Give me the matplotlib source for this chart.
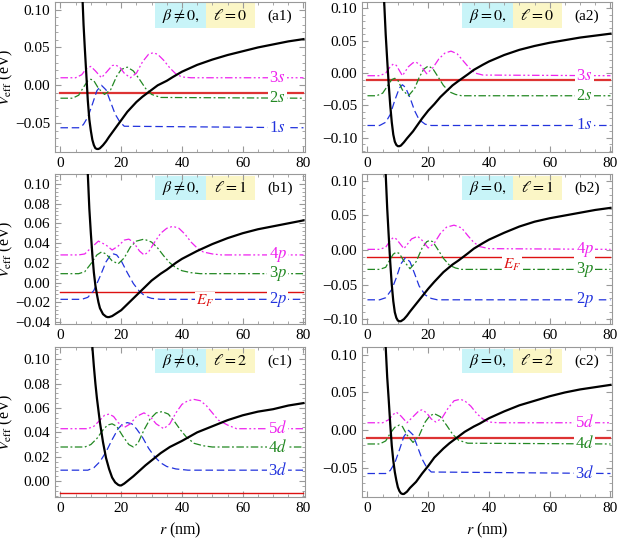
import numpy as np
import matplotlib
matplotlib.use('Agg')
import matplotlib.pyplot as plt
from matplotlib.patches import Rectangle
from matplotlib.ticker import AutoMinorLocator, MultipleLocator
import matplotlib.transforms as mtransforms

plt.rcParams['font.family'] = ['Liberation Serif', 'DejaVu Serif']
plt.rcParams['mathtext.fontset'] = 'stix'

# ---- data ----
# (a1) beta != 0, l = 0
a1_pot_r = [7.3, 7.6, 8, 8.5, 9, 9.5, 10, 10.5, 11, 11.5, 12, 12.5, 13, 14, 15, 16, 18, 20, 22, 25, 27, 30, 32, 35, 37, 40, 45, 50, 55, 60, 65, 70, 75, 80]
a1_pot_v = [0.11, 0.08, 0.05, 0.015, -0.02, -0.045, -0.06, -0.072, -0.079, -0.083, -0.084, -0.084, -0.083, -0.079, -0.074, -0.068, -0.057, -0.046, -0.035, -0.022, -0.015, -0.006, 0.0, 0.006, 0.011, 0.018, 0.027, 0.034, 0.040, 0.045, 0.050, 0.054, 0.058, 0.061]
a1_1_r = [0, 6, 7.5, 9, 10.5, 12, 13.5, 15, 16.5, 18, 19.5, 21, 80]
a1_1_v = [-0.056, -0.056, -0.052, -0.042, -0.025, -0.007, 0.0, -0.006, -0.022, -0.038, -0.048, -0.054, -0.056]
a1_2_r = [0, 4, 6, 7.5, 9, 10, 11, 12.5, 14.5, 16.5, 18.5, 20, 22, 24, 26, 28, 30, 33, 80]
a1_2_v = [-0.017, -0.017, -0.013, -0.003, 0.006, 0.008, 0.006, -0.004, -0.012, -0.006, 0.012, 0.021, 0.024, 0.019, 0.008, -0.004, -0.012, -0.016, -0.017]
a1_3_r = [0, 5, 7, 8.5, 10, 11.5, 13.5, 15.5, 17, 18, 19.5, 21, 23, 25, 27, 29, 30.5, 32, 34, 36, 38, 40, 43, 80]
a1_3_v = [0.01, 0.01, 0.014, 0.022, 0.025, 0.019, 0.01, 0.019, 0.026, 0.027, 0.024, 0.016, 0.01, 0.016, 0.031, 0.041, 0.043, 0.041, 0.033, 0.023, 0.015, 0.011, 0.01, 0.01]

# (a2) beta = 0, l = 0
a2_pot_r = [5.5, 6, 6.5, 7, 7.5, 8, 8.5, 9, 9.5, 10, 10.5, 11, 12, 13, 15, 18, 20, 22, 24, 26, 28, 30, 33, 35, 38, 40, 45, 50, 55, 60, 65, 70, 75, 80]
a2_pot_v = [0.11, 0.06, 0.02, -0.018, -0.05, -0.076, -0.095, -0.106, -0.111, -0.113, -0.113, -0.112, -0.107, -0.101, -0.09, -0.07, -0.058, -0.048, -0.037, -0.028, -0.019, -0.012, -0.002, 0.005, 0.013, 0.018, 0.028, 0.036, 0.042, 0.047, 0.051, 0.055, 0.058, 0.061]
a2_1_r = [0, 4, 6, 7.5, 9, 10.5, 11.5, 12.5, 14, 15.5, 17, 19, 21, 80]
a2_1_v = [-0.081, -0.081, -0.076, -0.064, -0.042, -0.023, -0.018, -0.022, -0.038, -0.058, -0.072, -0.079, -0.081, -0.081]
a2_2_r = [0, 3, 5, 7, 8, 9, 10, 11.5, 13.5, 15.5, 17, 18.5, 20, 21.5, 23, 25, 27, 29, 31, 80]
a2_2_v = [-0.035, -0.035, -0.031, -0.017, -0.01, -0.008, -0.011, -0.026, -0.035, -0.024, -0.007, 0.006, 0.011, 0.007, -0.004, -0.019, -0.029, -0.033, -0.035, -0.035]
a2_3_r = [0, 4, 6, 7.5, 8.5, 9.5, 11.5, 13.5, 15, 16, 17.5, 19.5, 21.5, 23.5, 25.5, 27.5, 29.5, 31.5, 33.5, 35.5, 38, 80]
a2_3_v = [-0.004, -0.004, 0.0, 0.01, 0.014, 0.012, -0.004, 0.01, 0.016, 0.017, 0.012, -0.001, 0.008, 0.022, 0.031, 0.034, 0.03, 0.019, 0.008, 0.0, -0.003, -0.004]

# (b1) beta != 0, l = 1
b1_pot_r = [9, 9.5, 10, 10.5, 11, 11.5, 12, 12.5, 13, 14, 15, 15.5, 16, 17, 18, 20, 22, 25, 28, 30, 33, 35, 38, 40, 45, 50, 55, 60, 65, 70, 75, 80]
b1_pot_v = [0.11, 0.075, 0.05, 0.028, 0.01, -0.003, -0.012, -0.02, -0.026, -0.032, -0.0345, -0.035, -0.035, -0.034, -0.032, -0.028, -0.022, -0.013, -0.004, 0.002, 0.009, 0.013, 0.02, 0.024, 0.032, 0.039, 0.045, 0.05, 0.054, 0.057, 0.060, 0.063]
b1_1_r = [0, 7, 9, 11, 13, 15, 16.5, 17.5, 18.5, 20, 22, 24, 26, 28, 30, 33, 80]
b1_1_v = [-0.017, -0.017, -0.015, -0.008, 0.006, 0.021, 0.028, 0.029, 0.028, 0.022, 0.01, -0.001, -0.009, -0.014, -0.016, -0.017, -0.017]
b1_2_r = [0, 6, 8, 10, 12, 13.5, 15, 17, 19, 21, 23, 25, 27.5, 30, 32, 34, 36, 38, 40, 43, 46, 80]
b1_2_v = [0.009, 0.009, 0.011, 0.019, 0.028, 0.031, 0.029, 0.022, 0.019, 0.025, 0.036, 0.042, 0.044, 0.041, 0.035, 0.027, 0.02, 0.015, 0.012, 0.01, 0.009, 0.009]
b1_3_r = [0, 6, 8, 10, 12.5, 15, 17, 19, 21, 22.5, 24, 26, 27.5, 29, 31, 33, 35, 37, 39, 41, 43, 45, 47, 50, 53, 80]
b1_3_v = [0.028, 0.028, 0.029, 0.035, 0.042, 0.038, 0.033, 0.037, 0.043, 0.044, 0.041, 0.032, 0.028, 0.031, 0.041, 0.05, 0.055, 0.057, 0.055, 0.049, 0.041, 0.035, 0.031, 0.029, 0.028, 0.028]

# (b2) beta = 0, l = 1
b2_pot_r = [6, 6.5, 7, 7.5, 8, 8.5, 9, 9.5, 10, 10.5, 11, 12, 13, 14, 16, 18, 20, 22, 25, 28, 30, 33, 35, 38, 40, 45, 50, 55, 60, 65, 70, 75, 80]
b2_pot_v = [0.11, 0.06, 0.02, -0.018, -0.05, -0.074, -0.09, -0.098, -0.102, -0.103, -0.103, -0.1, -0.095, -0.089, -0.078, -0.067, -0.056, -0.046, -0.032, -0.021, -0.015, -0.005, 0.002, 0.01, 0.015, 0.025, 0.034, 0.041, 0.046, 0.050, 0.054, 0.058, 0.061]
b2_1_r = [0, 4, 6, 8, 9.5, 11, 12.5, 14, 15.5, 17, 19, 21, 23, 80]
b2_1_v = [-0.072, -0.072, -0.069, -0.057, -0.04, -0.02, -0.011, -0.017, -0.034, -0.052, -0.065, -0.07, -0.072, -0.072]
b2_2_r = [0, 4, 6, 7.5, 8.5, 9.5, 10.5, 12, 14, 16, 18, 19.5, 20.5, 21.5, 23, 25, 27, 29, 31, 33, 80]
b2_2_v = [-0.028, -0.028, -0.025, -0.013, -0.006, -0.003, -0.005, -0.016, -0.027, -0.017, 0.003, 0.012, 0.014, 0.012, 0.002, -0.012, -0.022, -0.026, -0.028, -0.028, -0.028]
b2_3_r = [0, 4, 6, 7.5, 8.5, 9.5, 12, 14.5, 16.5, 18, 20, 22, 24, 26, 28.5, 31, 33, 35, 37, 40, 80]
b2_3_v = [0.001, 0.001, 0.004, 0.014, 0.018, 0.016, 0.002, 0.016, 0.02, 0.014, 0.003, 0.01, 0.024, 0.033, 0.036, 0.032, 0.021, 0.011, 0.005, 0.002, 0.001]

# (c1) beta != 0, l = 2
c1_pot_r = [10.5, 11, 11.5, 12, 13, 14, 15, 16, 17, 18, 19, 19.5, 20, 21, 22, 24, 26, 28, 30, 33, 36, 40, 45, 50, 55, 60, 65, 70, 75, 80]
c1_pot_v = [0.11, 0.094, 0.08, 0.068, 0.048, 0.032, 0.019, 0.01, 0.003, -0.001, -0.003, -0.0035, -0.0035, -0.002, 0.0, 0.004, 0.0085, 0.013, 0.017, 0.023, 0.028, 0.033, 0.04, 0.045, 0.050, 0.054, 0.057, 0.059, 0.062, 0.064]
c1_1_r = [0, 9, 11, 13, 15, 17, 19, 20.5, 22, 23.5, 25, 27, 29, 31, 33, 35, 38, 42, 80]
c1_1_v = [0.009, 0.009, 0.011, 0.016, 0.024, 0.034, 0.043, 0.047, 0.048, 0.047, 0.043, 0.036, 0.027, 0.02, 0.015, 0.012, 0.01, 0.009, 0.009]
c1_2_r = [0, 8, 10, 12, 14, 15.5, 17, 18.5, 20.5, 22.5, 24, 25.5, 27.5, 29.5, 31.5, 33.5, 35.5, 37.5, 39.5, 41.5, 44, 47, 50, 80]
c1_2_v = [0.028, 0.028, 0.03, 0.035, 0.042, 0.046, 0.047, 0.045, 0.037, 0.03, 0.028, 0.031, 0.042, 0.051, 0.056, 0.057, 0.055, 0.049, 0.042, 0.036, 0.031, 0.029, 0.028, 0.028]
c1_3_r = [0, 9, 11, 13, 14.5, 16, 17.5, 19, 21, 23, 25, 27.5, 29.5, 31.5, 34, 36, 38, 40, 42, 44, 46, 48, 50, 52, 55, 58, 80]
c1_3_v = [0.043, 0.043, 0.045, 0.05, 0.054, 0.055, 0.053, 0.048, 0.044, 0.047, 0.053, 0.056, 0.053, 0.047, 0.043, 0.047, 0.056, 0.063, 0.066, 0.067, 0.066, 0.062, 0.056, 0.05, 0.046, 0.043, 0.043]

# (c2) beta = 0, l = 2
c2_pot_r = [6, 6.5, 7, 7.5, 8, 8.5, 9, 9.5, 10, 10.5, 11, 11.5, 12, 13, 14, 16, 18, 20, 22, 25, 27, 30, 32, 35, 37, 40, 45, 50, 55, 60, 65, 70, 75, 80]
c2_pot_v = [0.11, 0.07, 0.04, 0.008, -0.02, -0.04, -0.055, -0.066, -0.075, -0.080, -0.083, -0.084, -0.084, -0.081, -0.076, -0.068, -0.057, -0.047, -0.036, -0.024, -0.017, -0.008, -0.002, 0.005, 0.009, 0.016, 0.025, 0.033, 0.039, 0.045, 0.050, 0.054, 0.057, 0.06]
c2_1_r = [0, 6, 7.5, 9, 10.5, 12, 13.5, 15, 16.5, 18, 19.5, 21, 80]
c2_1_v = [-0.057, -0.057, -0.053, -0.043, -0.026, -0.008, 0.0, -0.006, -0.022, -0.038, -0.049, -0.055, -0.057]
c2_2_r = [0, 4, 6, 7.5, 9, 10.5, 11.5, 13, 15, 17, 19, 20.5, 22, 24, 26, 28, 30, 33, 80]
c2_2_v = [-0.018, -0.018, -0.014, -0.004, 0.004, 0.007, 0.005, -0.006, -0.016, -0.007, 0.011, 0.019, 0.022, 0.018, 0.007, -0.005, -0.013, -0.017, -0.018]
c2_3_r = [0, 5, 7, 8.5, 9.5, 11, 13, 15, 17, 18, 19.5, 21, 22.5, 24.5, 26.5, 28.5, 30.5, 32, 34, 36, 38, 40, 43, 80]
c2_3_v = [0.01, 0.01, 0.014, 0.021, 0.024, 0.019, 0.01, 0.018, 0.026, 0.027, 0.023, 0.015, 0.011, 0.016, 0.029, 0.039, 0.041, 0.039, 0.032, 0.022, 0.015, 0.011, 0.01, 0.01]

fermi = -0.01

panels = [
    ('a1', r'$\beta\neq0,$', r'$\ell=0$', ['1', '2', '3'], 's', (-0.088, 0.11), 0.05,
     a1_pot_r, a1_pot_v, [(a1_1_r, a1_1_v), (a1_2_r, a1_2_v), (a1_3_r, a1_3_v)], 'thick'),
    ('a2', r'$\beta=0,$', r'$\ell=0$', ['1', '2', '3'], 's', (-0.122, 0.11), 0.05,
     a2_pot_r, a2_pot_v, [(a2_1_r, a2_1_v), (a2_2_r, a2_2_v), (a2_3_r, a2_3_v)], 'thick'),
    ('b1', r'$\beta\neq0,$', r'$\ell=1$', ['2', '3', '4'], 'p', (-0.042, 0.11), 0.02,
     b1_pot_r, b1_pot_v, [(b1_1_r, b1_1_v), (b1_2_r, b1_2_v), (b1_3_r, b1_3_v)], 'label'),
    ('b2', r'$\beta=0,$', r'$\ell=1$', ['2', '3', '4'], 'p', (-0.107, 0.11), 0.05,
     b2_pot_r, b2_pot_v, [(b2_1_r, b2_1_v), (b2_2_r, b2_2_v), (b2_3_r, b2_3_v)], 'label'),
    ('c1', r'$\beta\neq0,$', r'$\ell=2$', ['3', '4', '5'], 'd', (-0.013, 0.11), 0.02,
     c1_pot_r, c1_pot_v, [(c1_1_r, c1_1_v), (c1_2_r, c1_2_v), (c1_3_r, c1_3_v)], 'thin'),
    ('c2', r'$\beta=0,$', r'$\ell=2$', ['3', '4', '5'], 'd', (-0.088, 0.11), 0.05,
     c2_pot_r, c2_pot_v, [(c2_1_r, c2_1_v), (c2_2_r, c2_2_v), (c2_3_r, c2_3_v)], 'thick'),
]

colors = ['#2233dd', '#228822', '#ee22ee']
styles = [(0, (6, 3)), (0, (6, 2, 1.5, 2)), (0, (6, 2, 1.5, 2, 1.5, 2))]

fig = plt.figure(figsize=(6.17, 5.4), dpi=100)
lefts = [55 / 617, 362 / 617]
bottoms = [1 - 152 / 540, 1 - 324 / 540, 1 - 497 / 540]
w = 250 / 617
h = 150 / 540
gray = '#999999'

for k, (name, tb, tl, ns, sym, ylim, step, pr, pv, waves, ef) in enumerate(panels):
    row, col = k // 2, k % 2
    ax = fig.add_axes([lefts[col], bottoms[row], w, h])
    ax.set_xlim(-1.8, 80.5)
    ax.set_ylim(*ylim)
    ax.yaxis.set_major_locator(MultipleLocator(step))
    ax.xaxis.set_major_locator(MultipleLocator(20))
    ax.xaxis.set_minor_locator(AutoMinorLocator(4))
    ax.yaxis.set_minor_locator(AutoMinorLocator(5))
    ax.tick_params(which='both', direction='in', top=True, right=True, color=gray, labelsize=11)
    ax.tick_params(which='major', length=4)
    ax.tick_params(which='minor', length=2)
    for s in ax.spines.values():
        s.set_color(gray)
    ax.yaxis.set_major_formatter(plt.FuncFormatter(lambda v, p: ('%.2f' % v).replace('-', '\u2212')))

    if ef == 'thick':
        ax.plot([0, 80], [fermi, fermi], color='#dd3333', lw=1.6, zorder=2)
    else:
        ax.plot([0, 80], [fermi, fermi], color='#dd1111', lw=1.0, zorder=2)
    if ef == 'label':
        ax.text(47.5, fermi, r'$E_F$', color='#dd1111', fontsize=11, ha='center', va='top',
                bbox=dict(fc='white', ec='none', pad=0.5), zorder=3)

    for i, (wr, wv) in enumerate(waves):
        ax.plot(wr, wv, color=colors[i], lw=0.9, linestyle=styles[i], zorder=2)
        ax.text(71.5, wv[-1], ns[i] + '$' + sym + '$', color=colors[i], fontsize=12,
                ha='center', va='center', bbox=dict(fc='white', ec='none', pad=0.8), zorder=4)

    ax.plot(pr, pv, color='black', lw=1.6, zorder=5)

    trans = mtransforms.blended_transform_factory(ax.transData, ax.transAxes)
    ax.add_patch(Rectangle((31, 0.83), 17, 0.16, transform=trans, fc='#c8f4f8', ec='none', zorder=1))
    ax.add_patch(Rectangle((48, 0.83), 16, 0.16, transform=trans, fc='#fbf6c6', ec='none', zorder=1))
    ax.text(39.5, 0.905, tb, transform=trans, ha='center', va='center', fontsize=11.5, zorder=6)
    ax.text(56, 0.905, tl, transform=trans, ha='center', va='center', fontsize=11.5, zorder=6)
    ax.text(0.9, 0.905, '(' + name + ')', transform=ax.transAxes, ha='center', va='center', fontsize=11)

    if col == 0:
        ax.set_ylabel(r'$V_{\rm eff}$ (eV)', fontsize=11.5)
        ax.yaxis.set_label_coords(-0.16, 0.5)
    if row == 2:
        ax.set_xlabel(r'$r$ (nm)', fontsize=11.5)

fig.savefig('out.png', dpi=100)
